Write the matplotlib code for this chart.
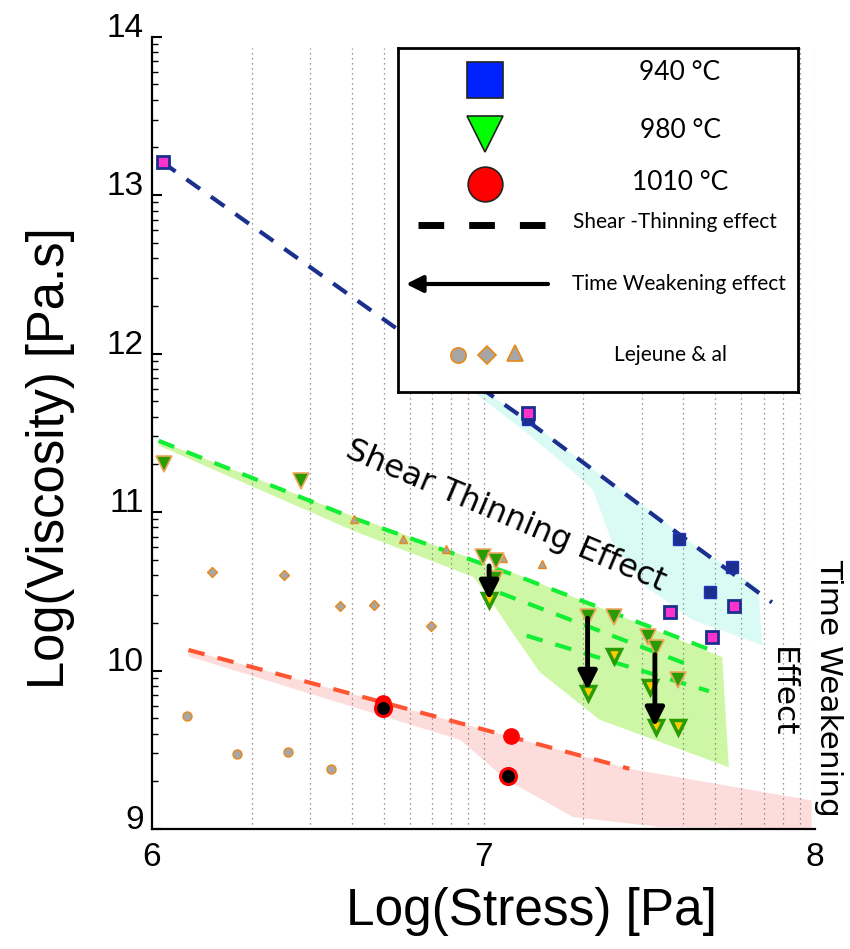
import matplotlib
matplotlib.use('Agg')
import matplotlib.pyplot as plt
import matplotlib.transforms as mtransforms
import numpy as np

# ---- data (log10 stress, log10 viscosity) ----
blue_dark_x = [7.134, 7.590, 7.751, 7.682]
blue_dark_y = [11.586, 10.828, 10.651, 10.493]
blue_pink_x = [6.033, 7.134, 7.563, 7.756, 7.688]
blue_pink_y = [13.21, 11.627, 10.367, 10.407, 10.213]

green_dark_x = [6.036, 6.449, 6.998, 7.038, 7.035, 7.314, 7.394, 7.497, 7.520, 7.588]
green_dark_y = [11.303, 11.196, 10.718, 10.693, 10.575, 10.339, 10.339, 10.213, 10.143, 9.940]
green_yel_x = [7.017, 7.394, 7.314, 7.501, 7.520, 7.588]
green_yel_y = [10.445, 10.091, 9.856, 9.894, 9.645, 9.645]

red_full_x = [6.698, 7.083]
red_full_y = [9.793, 9.587]
red_black_x = [6.698, 7.075]
red_black_y = [9.762, 9.334]

# time weakening arrows
arrow_x = [7.017, 7.314, 7.517]
arrow_y0 = [10.66, 10.33, 10.10]
arrow_y1 = [10.445, 9.876, 9.645]

# Lejeune & al
lej_circ_x = [6.105, 6.255, 6.409, 6.540]
lej_circ_y = [9.715, 9.475, 9.488, 9.380]
lej_diam_x = [6.182, 6.399, 6.568, 6.670, 6.841]
lej_diam_y = [10.621, 10.600, 10.405, 10.411, 10.279]
lej_tri_x = [6.609, 6.758, 6.887, 7.060, 7.177]
lej_tri_y = [10.957, 10.830, 10.767, 10.711, 10.670]

# shear thinning lines
blue_line_x = [6.03, 6.73, 7.13, 7.59, 7.87]
blue_line_y = [13.21, 12.17, 11.58, 10.86, 10.43]
green_line1_x = [6.02, 6.61, 7.11, 7.71]
green_line1_y = [11.45, 10.96, 10.59, 10.11]
green_line2_x = [7.05, 7.62]
green_line2_y = [10.49, 10.035]
green_line3_x = [7.13, 7.68]
green_line3_y = [10.22, 9.87]
red_line_x = [6.11, 7.44]
red_line_y = [10.13, 9.38]

# shaded envelopes (outline: upper edge left->right, lower edge right->left)
cyan_x = [6.95, 7.13, 7.29, 7.49, 7.63, 7.83, 7.84, 7.63, 7.49, 7.39, 7.33, 7.29, 7.13, 6.95]
cyan_y = [11.83, 11.59, 11.33, 11.03, 10.80, 10.52, 10.16, 10.32, 10.53, 10.80, 11.14, 11.22, 11.50, 11.79]
green_x = [6.02, 6.61, 7.11, 7.72, 7.74, 7.35, 7.17, 7.08, 7.02, 6.97, 6.61, 6.02]
green_y = [11.45, 10.97, 10.60, 10.085, 9.39, 9.69, 9.99, 10.26, 10.45, 10.59, 10.88, 11.42]
pink_x = [6.11, 7.44, 7.99, 7.99, 7.53, 7.27, 7.07, 6.93, 6.11]
pink_y = [10.13, 9.38, 9.18, 9.0, 9.013, 9.076, 9.309, 9.562, 10.09]

navy = '#1b2f8f'
fig = plt.figure(figsize=(8.5, 9.49), dpi=100)
ax = fig.add_axes([152/850, 120/949, 663/850, 792.3/949])

ax.fill(cyan_x, cyan_y, color='#dafbf4', lw=0, zorder=1)
ax.fill(green_x, green_y, color='#cdf7a4', lw=0, zorder=1)
ax.fill(pink_x, pink_y, color='#fddcdc', lw=0, zorder=1)

# dotted log grid
grid_x = [d + np.log10(k) for d in (6, 7) for k in range(2, 11)]
ax.vlines(grid_x, 9, 13.93, colors='#777777', linestyles=(0, (1, 3)), lw=0.9, zorder=1.5)

ax.plot(blue_line_x, blue_line_y, color=navy, lw=3, dashes=(4, 3.2), zorder=2)
for lx, ly in [(green_line1_x, green_line1_y), (green_line2_x, green_line2_y), (green_line3_x, green_line3_y)]:
    ax.plot(lx, ly, color='#11ee33', lw=3, dashes=(4, 3.2), zorder=2)
ax.plot(red_line_x, red_line_y, color='#ff5533', lw=3, dashes=(4, 3.2), zorder=2)

ax.plot(lej_circ_x, lej_circ_y, 'o', ms=6.5, mfc='#a6a6a6', mec='#e88a1a', mew=1, zorder=3)
ax.plot(lej_diam_x, lej_diam_y, 'D', ms=5, mfc='#a6a6a6', mec='#e88a1a', mew=1, zorder=3)
ax.plot(lej_tri_x, lej_tri_y, '^', ms=6, mfc='#a6a6a6', mec='#e88a1a', mew=1, zorder=3)

ax.plot(blue_dark_x, blue_dark_y, 's', ms=8, mfc=navy, mec='#2233bb', mew=1, zorder=4)
ax.plot(blue_pink_x, blue_pink_y, 's', ms=8, mfc='#ff33cc', mec=navy, mew=2, zorder=4)
ax.plot(green_dark_x, green_dark_y, 'v', ms=11, mfc='#2a9a05', mec='#f0a860', mew=1.2, zorder=4)
ax.plot(green_yel_x, green_yel_y, 'v', ms=10, mfc='#ffcc00', mec='#2a9a05', mew=2.5, zorder=4)
ax.plot(red_full_x, red_full_y, 'o', ms=11, mfc='#ff0000', mec='#ff0000', zorder=4)
ax.plot(red_black_x, red_black_y, 'o', ms=11.5, mfc='black', mec='#ff0000', mew=2.2, zorder=4)

for xa, y0, y1 in zip(arrow_x, arrow_y0, arrow_y1):
    ax.annotate('', xy=(xa, y1), xytext=(xa, y0),
                arrowprops=dict(arrowstyle='-|>', color='black', lw=3.5,
                                mutation_scale=28, shrinkA=0, shrinkB=0), zorder=5)

ax.text(7.068, 10.975, 'Shear Thinning Effect', rotation=-23, rotation_mode='anchor',
        ha='center', va='center', fontsize=23, family='DejaVu Sans', zorder=6)
ax.text(8.042, 9.89, 'Time Weakening', rotation=-90, ha='center', va='center',
        fontsize=22.5, family='DejaVu Sans', clip_on=False)
ax.text(7.903, 9.865, 'Effect', rotation=-90, ha='center', va='center',
        fontsize=22.5, family='DejaVu Sans', clip_on=False)

ax.set_xlim(6, 8)
ax.set_ylim(9, 14)
ax.spines['top'].set_visible(False)
ax.spines['right'].set_visible(False)
ax.spines['left'].set_linewidth(1.6)
ax.spines['bottom'].set_linewidth(1.6)
ax.set_xticks([6, 7, 8])
ax.set_xticklabels(['6', '7', '8'])
ax.set_yticks([9, 10, 11, 12, 13, 14])
ax.set_yticks([d + np.log10(k) for d in range(9, 14) for k in range(2, 10)], minor=True)
ax.tick_params(axis='x', length=0, pad=9, labelsize=24)
ax.tick_params(axis='y', which='major', direction='in', length=7, width=1.5, pad=6, labelsize=24)
ax.tick_params(axis='y', which='minor', direction='in', length=4, width=1)
for lab in ax.get_xticklabels() + ax.get_yticklabels():
    lab.set_family('Liberation Sans')
shift = mtransforms.ScaledTranslation(0, 12/100, fig.dpi_scale_trans)
for lab in ax.get_yticklabels():
    lab.set_transform(lab.get_transform() + shift)

fig.text(51/850, 1 - 458/949, 'Log(Viscosity) [Pa.s]', rotation=90, ha='center', va='center',
         fontsize=36.5, family='Liberation Sans')
fig.text(531/850, 1 - 912/949, 'Log(Stress) [Pa]', ha='center', va='center',
         fontsize=37, family='Liberation Sans')

# ---- hand-drawn legend box, in pixel units ----
lg = fig.add_axes([398/850, 1 - 392/949, 400/850, 344/949])
lg.set_xlim(0, 400)
lg.set_ylim(344, 0)
lg.set_xticks([])
lg.set_yticks([])
for sp in lg.spines.values():
    sp.set_linewidth(2)
lg.patch.set_facecolor('white')
lf = 'Lato'
lg.plot([87], [31.5], 's', ms=26, mfc='#0022ff', mec='#222222', mew=1.2)
lg.plot([87], [86], 'v', ms=26, mfc='#00ff00', mec='#222222', mew=1.2)
lg.plot([87], [135.5], 'o', ms=25, mfc='#ff0000', mec='#222222', mew=1.2)
lg.plot([20, 147], [177, 177], color='black', lw=5, linestyle=(0, (3.7, 3.6)),
        dash_capstyle='butt')
lg.annotate('', xy=(8, 236), xytext=(150, 236),
            arrowprops=dict(arrowstyle='-|>', color='black', lw=3, mutation_scale=25,
                            shrinkA=0, shrinkB=0))
lg.plot([60], [307], 'o', ms=11, mfc='#a6a6a6', mec='#e88a1a', mew=1.2)
lg.plot([89], [307], 'D', ms=9, mfc='#a6a6a6', mec='#e88a1a', mew=1.2)
lg.plot([117], [305], '^', ms=11, mfc='#a6a6a6', mec='#e88a1a', mew=1.2)
lg.text(282, 25, '940 °C', ha='center', va='center', fontsize=19, family=lf)
lg.text(282, 82, '980 °C', ha='center', va='center', fontsize=19, family=lf)
lg.text(282, 135, '1010 °C', ha='center', va='center', fontsize=19, family=lf)
lg.text(277, 174, 'Shear -Thinning effect', ha='center', va='center', fontsize=15, family=lf)
lg.text(281, 236, 'Time Weakening effect', ha='center', va='center', fontsize=15, family=lf)
lg.text(272, 307, 'Lejeune & al', ha='center', va='center', fontsize=15, family=lf)

fig.savefig('out.png', dpi=100)
plt.close()
